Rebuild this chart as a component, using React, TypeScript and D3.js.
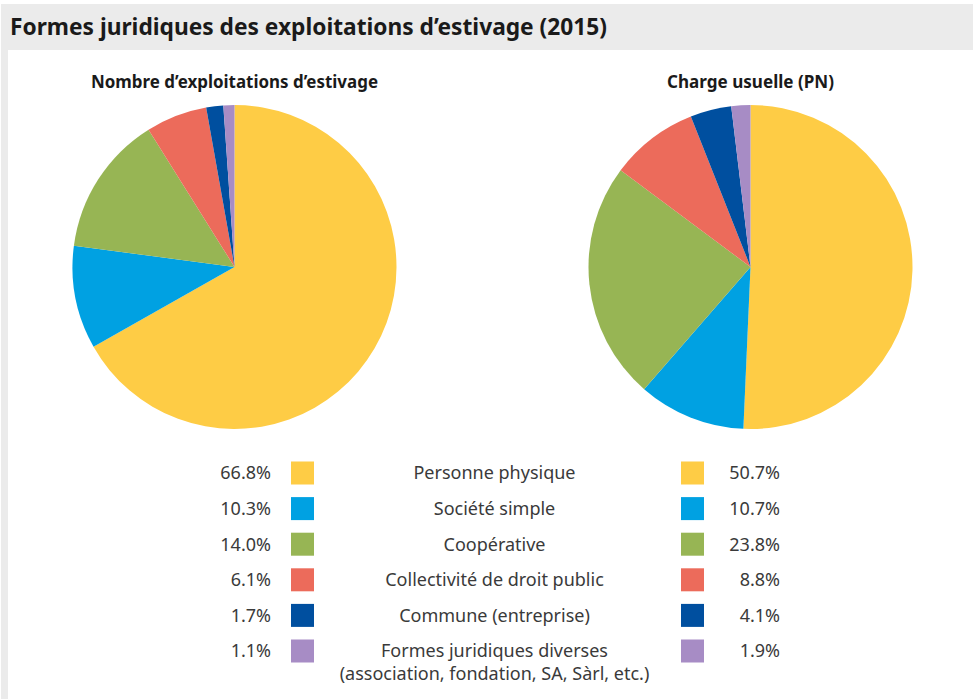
import React from 'react';
import * as d3 from 'd3';

const categories = [
  'Personne physique',
  'Société simple',
  'Coopérative',
  'Collectivité de droit public',
  'Commune (entreprise)',
  'Formes juridiques diverses',
];
const categoryNote = ['', '', '', '', '', '(association, fondation, SA, Sàrl, etc.)'];
const farmShares = [66.8, 10.3, 14.0, 6.1, 1.7, 1.1];
const loadShares = [50.7, 10.7, 23.8, 8.8, 4.1, 1.9];
const sliceColors = ['#fecc45', '#00a1e2', '#97b554', '#ec6b5b', '#004f9f', '#a78cc5'];

const title = 'Formes juridiques des exploitations d\u2019estivage (2015)';
const pieTitles = ['Nombre d\u2019exploitations d\u2019estivage', 'Charge usuelle (PN)'];

const W = 973;
const H = 699;
const R = 162;
const pieCenters = [234.5, 750.5];
const pieCy = 267;

const boldFont = '"Noto Sans", "Open Sans", sans-serif';
const regular = '"Noto Sans", "Open Sans", sans-serif';
// the original uses a condensed face: squeeze the bold texts to their measured widths
const pieTitleWidths = [287, 167];

export default function App() {
  const pie = d3.pie<number>().sort(null).value(d => d);
  const arc = d3.arc<d3.PieArcDatum<number>>().innerRadius(0).outerRadius(R);

  const rowY = d3.scaleLinear().domain([0, categories.length - 1]).range([473, 651]);
  const fmt = (v: number) => `${v.toFixed(1)}%`;

  return (
    <svg width={W} height={H} style={{ position: 'absolute', left: 0, top: 0 }}>
      <rect x={0} y={0} width={W} height={H} fill="#fff" />
      {/* frame: grey title band + thin strip on the left */}
      <rect x={1} y={4} width={W - 1} height={46} fill="#ebebeb" />
      <rect x={1} y={4} width={7} height={H - 4} fill="#ebebeb" />
      <text
        x={10}
        y={35}
        fontFamily={boldFont}
        fontWeight="bold"
        fontSize={24}
        fill="#1a1a1a"
        textLength={597}
        lengthAdjust="spacingAndGlyphs"
      >
        {title}
      </text>

      {[farmShares, loadShares].map((shares, i) => (
        <g key={i}>
          <text
            x={pieCenters[i] - pieTitleWidths[i] / 2}
            y={88}
            fontFamily={boldFont}
            fontWeight="bold"
            fontSize={17}
            fill="#1a1a1a"
            textLength={pieTitleWidths[i]}
            lengthAdjust="spacingAndGlyphs"
          >
            {pieTitles[i]}
          </text>
          <g transform={`translate(${pieCenters[i]},${pieCy})`}>
            {pie(shares).map((d, j) => (
              <path key={j} d={arc(d) || ''} fill={sliceColors[j]} />
            ))}
          </g>
        </g>
      ))}

      {categories.map((c, i) => {
        const y = rowY(i);
        return (
          <g key={c} fontFamily={regular} fontSize={18} fill="#3a3a3a">
            <text x={271} y={y} dy="0.35em" textAnchor="end">
              {fmt(farmShares[i])}
            </text>
            <rect x={291} y={y - 11.5} width={23} height={23} fill={sliceColors[i]} />
            <text x={494.5} y={y} dy="0.35em" textAnchor="middle">
              {c}
            </text>
            {categoryNote[i] && (
              <text x={494.5} y={y + 23} dy="0.35em" textAnchor="middle">
                {categoryNote[i]}
              </text>
            )}
            <rect x={681} y={y - 11.5} width={23} height={23} fill={sliceColors[i]} />
            <text x={780} y={y} dy="0.35em" textAnchor="end">
              {fmt(loadShares[i])}
            </text>
          </g>
        );
      })}
    </svg>
  );
}
